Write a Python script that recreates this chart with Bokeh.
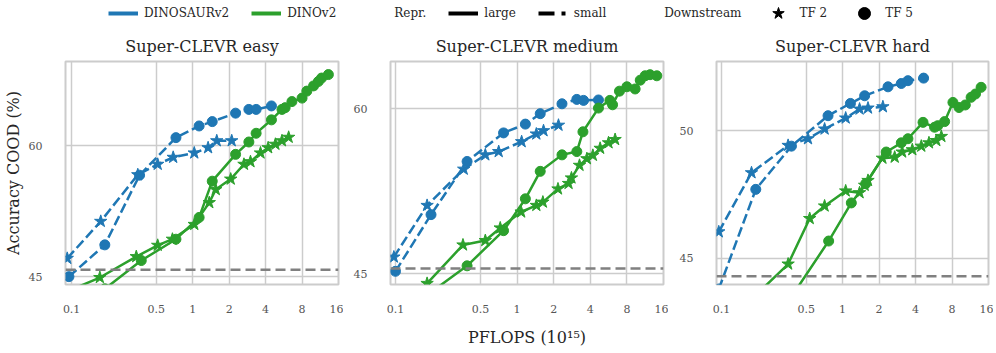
from bokeh.plotting import figure
from bokeh.models import (FixedTicker, Range1d, Span, Legend, LegendItem,
                          CustomJSTickFormatter)
from bokeh.layouts import column, row
from bokeh.embed import file_html
from bokeh.resources import INLINE

BLUE = "#1f77b4"
GREEN = "#2ca02c"
FONT = "DejaVu Serif"

titles = ["Super-CLEVR easy", "Super-CLEVR medium", "Super-CLEVR hard"]
x_ticks = [0.1, 0.5, 1, 2, 4, 8, 16]
y_ticks = [[45, 60], [45, 60], [45, 50]]
baselines = [45.8, 45.45, 44.3]

# ---- Super-CLEVR easy ----
easy_sdino_tf5_x = [0.095, 0.188, 0.364, 0.727, 1.13, 1.45, 2.26, 2.91, 3.34, 4.47]
easy_sdino_tf5_y = [45.0, 48.65, 56.65, 60.96, 62.3, 62.8, 63.77, 64.2, 64.2, 64.6]
easy_sdino_tf2_x = [0.092, 0.174, 0.352, 0.514, 0.69, 1.03, 1.34, 1.58, 2.1]
easy_sdino_tf2_y = [47.1, 51.35, 56.7, 57.9, 58.7, 59.2, 59.8, 60.6, 60.6]
easy_dino_tf5_x = [0.188, 0.376, 0.727, 1.13, 1.45, 2.26, 2.91, 3.34, 4.47, 5.46,
                   5.8, 6.6, 8.0, 8.76, 9.96, 10.9, 11.6, 13.2]
easy_dino_tf5_y = [43.6, 46.85, 49.3, 51.8, 55.96, 59.04, 60.46, 61.46, 63.0, 64.2,
                   64.4, 65.1, 65.5, 66.3, 66.9, 67.4, 67.8, 68.2]
easy_dino_tf2_x = [0.092, 0.171, 0.342, 0.514, 0.68, 1.03, 1.37, 1.55, 2.06, 2.65,
                   3.0, 3.63, 4.2, 4.82, 5.46, 6.2]
easy_dino_tf2_y = [43.3, 44.9, 47.3, 48.6, 49.3, 51.0, 53.5, 55.0, 56.2, 57.9,
                   58.2, 59.2, 59.8, 60.2, 60.6, 61.0]

# ---- Super-CLEVR medium ----
med_sdino_tf5_x = [0.1, 0.196, 0.388, 0.774, 1.17, 1.55, 2.34, 3.1, 3.52, 4.67]
med_sdino_tf5_y = [45.2, 50.36, 55.2, 57.8, 58.6, 59.55, 60.45, 60.85, 60.76, 60.8]
med_sdino_tf2_x = [0.097, 0.182, 0.364, 0.548, 0.706, 1.09, 1.44, 1.65, 2.19]
med_sdino_tf2_y = [46.5, 51.2, 54.5, 55.8, 56.1, 57.0, 57.7, 58.0, 58.5]
med_dino_tf5_x = [0.196, 0.388, 0.774, 1.17, 1.55, 2.34, 3.1, 3.48, 4.67, 5.8,
                  6.1, 6.95, 8.0, 9.35, 10.3, 11.3, 12.4, 14.1]
med_dino_tf5_y = [43.3, 45.7, 48.9, 51.8, 54.3, 55.8, 56.1, 57.9, 60.06, 60.76,
                  60.36, 61.6, 62.0, 61.8, 62.6, 63.0, 63.1, 63.0]
med_dino_tf2_x = [0.182, 0.359, 0.548, 0.727, 1.08, 1.44, 1.63, 2.17, 2.65, 2.8,
                  3.26, 3.75, 4.2, 4.82, 5.65, 6.4]
med_dino_tf2_y = [44.1, 47.6, 48.0, 49.15, 50.6, 51.2, 51.5, 52.7, 53.2, 53.7,
                  54.85, 55.45, 55.76, 56.4, 56.9, 57.2]

# ---- Super-CLEVR hard ----
hard_sdino_tf5_x = [0.095, 0.192, 0.378, 0.758, 1.16, 1.52, 2.37, 3.05, 3.46, 4.66]
hard_sdino_tf5_y = [43.8, 47.7, 49.39, 50.58, 51.06, 51.36, 51.71, 51.84, 51.95, 52.05]
hard_sdino_tf2_x = [0.095, 0.177, 0.355, 0.518, 0.71, 1.06, 1.38, 1.62, 2.15]
hard_sdino_tf2_y = [46.04, 48.35, 49.42, 49.68, 50.06, 50.49, 50.84, 50.88, 50.93]
hard_dino_tf5_x = [0.378, 0.767, 1.18, 1.55, 2.29, 3.05, 3.46, 4.61, 5.74, 6.1,
                   6.95, 8.14, 9.13, 10.3, 11.5, 12.5, 13.9]
hard_dino_tf5_y = [43.5, 45.68, 47.17, 47.92, 49.16, 49.52, 49.68, 50.32, 50.13, 50.19,
                   50.35, 51.1, 50.9, 51.0, 51.3, 51.43, 51.69]
hard_dino_tf2_x = [0.177, 0.355, 0.535, 0.71, 1.06, 1.38, 1.52, 1.62, 2.13, 2.69,
                   3.1, 3.76, 4.46, 5.16, 5.93, 6.53]
hard_dino_tf2_y = [43.4, 44.78, 46.56, 47.05, 47.64, 47.57, 47.86, 48.05, 48.92, 48.96,
                   49.16, 49.25, 49.39, 49.52, 49.61, 49.77]

panel_series = [
    [(easy_sdino_tf2_x, easy_sdino_tf2_y, BLUE, "10 4", "star"),
     (easy_sdino_tf5_x, easy_sdino_tf5_y, BLUE, "10 4", "circle"),
     (easy_dino_tf2_x, easy_dino_tf2_y, GREEN, "solid", "star"),
     (easy_dino_tf5_x, easy_dino_tf5_y, GREEN, "solid", "circle")],
    [(med_sdino_tf2_x, med_sdino_tf2_y, BLUE, "10 4", "star"),
     (med_sdino_tf5_x, med_sdino_tf5_y, BLUE, "10 4", "circle"),
     (med_dino_tf2_x, med_dino_tf2_y, GREEN, "solid", "star"),
     (med_dino_tf5_x, med_dino_tf5_y, GREEN, "solid", "circle")],
    [(hard_sdino_tf2_x, hard_sdino_tf2_y, BLUE, "10 4", "star"),
     (hard_sdino_tf5_x, hard_sdino_tf5_y, BLUE, "10 4", "circle"),
     (hard_dino_tf2_x, hard_dino_tf2_y, GREEN, "solid", "star"),
     (hard_dino_tf5_x, hard_dino_tf5_y, GREEN, "solid", "circle")],
]

x_ranges = [(0.089, 16.0), (0.091, 16.0), (0.091, 16.0)]
y_ranges = [(44.1, 69.7), (44.0, 64.3), (43.98, 52.7)]
frame_w = [273, 273, 272]
left_b = [62, 47, 48]
right_b = [5, 5, 5]
FRAME_H = 223


def make_panel(i):
    p = figure(frame_width=frame_w[i], frame_height=FRAME_H, x_axis_type="log",
               x_range=Range1d(*x_ranges[i]), y_range=Range1d(*y_ranges[i]),
               toolbar_location=None, output_backend="svg",
               min_border_left=left_b[i], min_border_right=right_b[i],
               min_border_top=32, min_border_bottom=62, title=titles[i])
    p.title.align = "center"
    p.title.text_font = FONT
    p.title.text_font_size = "16px"
    p.title.text_font_style = "normal"
    p.title.text_color = "#262626"
    p.title.standoff = 12
    p.outline_line_color = "#cccccc"
    p.outline_line_width = 2
    p.background_fill_color = "white"
    p.border_fill_color = "white"

    p.xaxis.ticker = FixedTicker(ticks=x_ticks)
    p.yaxis.ticker = FixedTicker(ticks=y_ticks[i])
    p.xaxis.formatter = CustomJSTickFormatter(code="return tick.toString();")
    for ax in (p.xaxis, p.yaxis):
        ax.axis_line_color = None
        ax.major_tick_line_color = None
        ax.minor_tick_line_color = None
        ax.major_label_text_font = FONT
        ax.major_label_text_font_size = "11px"
        ax.major_label_text_color = "#555555"
        ax.axis_label_text_font = FONT
        ax.axis_label_text_font_size = "16px"
        ax.axis_label_text_font_style = "normal"
        ax.axis_label_text_color = "#262626"
    p.xaxis.major_label_standoff = 14
    p.yaxis.major_label_standoff = 17
    p.xgrid.ticker = FixedTicker(ticks=x_ticks)
    p.ygrid.ticker = FixedTicker(ticks=y_ticks[i])
    for g in (p.xgrid, p.ygrid):
        g.grid_line_color = "#cccccc"
        g.grid_line_width = 1.5
        g.minor_grid_line_color = None

    if i == 0:
        p.yaxis.axis_label = "Accuracy COOD (%)"
        p.yaxis.axis_label_standoff = 3
    if i == 1:
        p.xaxis.axis_label = "PFLOPS (10\u00b9\u2075)"
        p.xaxis.axis_label_standoff = 12

    p.add_layout(Span(location=baselines[i], dimension="width",
                      line_color="#808080", line_dash="10 5", line_width=2.5))

    for xs, ys, color, dash, marker in panel_series[i]:
        p.line(xs, ys, line_color=color, line_width=2.5, line_dash=dash)
        size = 13 if marker == "star" else 10
        p.scatter(xs, ys, marker=marker, size=size, fill_color=color,
                  line_color=color)
    return p


panels = [make_panel(i) for i in range(3)]

# ---- legend strip (renderers hold off-screen dummy points) ----
STRIP_H = 28
leg = figure(width=990, height=STRIP_H, toolbar_location=None, output_backend="svg",
             x_axis_location=None, y_axis_location=None,
             x_range=(0, 1), y_range=(0, 1), min_border=0)
leg.grid.visible = False
leg.outline_line_color = None

dx = [-2, -1]
dy = [-2, -2]
r_sdino = leg.line(dx, dy, line_color=BLUE, line_width=4)
r_dino = leg.line(dx, dy, line_color=GREEN, line_width=4)
r_h1 = leg.line(dx, dy, line_alpha=0)
r_large = leg.line(dx, dy, line_color="black", line_width=4)
r_small = leg.line(dx, dy, line_color="black", line_width=4, line_dash="16 7 4 7")
r_h2 = leg.line(dx, dy, line_alpha=0)
r_tf2 = leg.scatter(dx, dy, marker="star", size=14, fill_color="black", line_color="black")
r_tf5 = leg.scatter(dx, dy, marker="circle", size=12, fill_color="black", line_color="black")

legend = Legend(items=[
    LegendItem(label="DINOSAURv2", renderers=[r_sdino]),
    LegendItem(label="DINOv2", renderers=[r_dino]),
    LegendItem(label="Repr.", renderers=[r_h1]),
    LegendItem(label="large", renderers=[r_large]),
    LegendItem(label="small", renderers=[r_small]),
    LegendItem(label="Downstream", renderers=[r_h2]),
    LegendItem(label="TF 2", renderers=[r_tf2]),
    LegendItem(label="TF 5", renderers=[r_tf5]),
], orientation="horizontal", location=(108, 0),
    glyph_width=30, glyph_height=30, label_height=12, label_standoff=6,
    spacing=22, padding=0, margin=0, border_line_alpha=0,
    background_fill_alpha=0, label_text_font=FONT,
    label_text_font_size="12px", label_text_color="#262626")
leg.add_layout(legend)

layout = column(leg, row(*panels))

with open("out.html", "w") as f:
    f.write(file_html(layout, INLINE))
